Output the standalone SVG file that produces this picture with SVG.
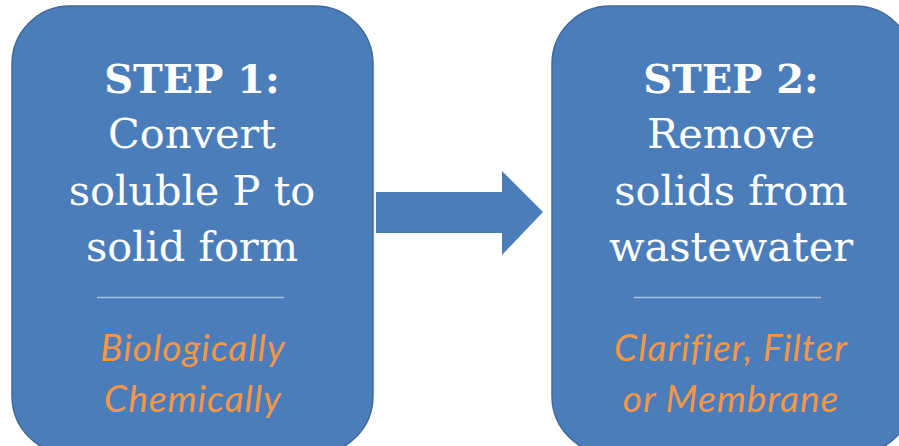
<svg xmlns="http://www.w3.org/2000/svg" width="899" height="446" viewBox="0 0 899 446">
<defs>
<style>
.box{fill:#4b7dba;stroke:#41699c;stroke-width:1.5}
.head{font-family:"DejaVu Serif",serif;font-weight:bold;font-size:40px;fill:#fff;text-anchor:middle}
.body{font-family:"DejaVu Serif",serif;font-size:41.5px;fill:#fff;text-anchor:middle}
.sub{font-family:"Lato","Open Sans",sans-serif;font-style:italic;font-size:37px;fill:#f79646;text-anchor:middle;letter-spacing:1px}
.rule{stroke:#a9c1e0;stroke-width:1.5}
.arrow{fill:#4b7dba}
</style>
</defs>
<rect width="899" height="446" fill="#fff"/>
<g id="step1">
<rect class="box" x="12" y="6" width="361" height="448" rx="58" ry="58"/>
<text class="head" x="192" y="93">STEP 1:</text>
<text class="body" x="192" y="148">Convert</text>
<text class="body" x="192" y="205">soluble P to</text>
<text class="body" x="192" y="261">solid form</text>
<line class="rule" x1="97" y1="297.5" x2="284" y2="297.5"/>
<text class="sub" x="193" y="361">Biologically</text>
<text class="sub" x="193" y="412">Chemically</text>
</g>
<g id="connectors">
<polygon class="arrow" points="376,192 502,192 502,171 543,212 502,255 502,233 376,233"/>
</g>
<g id="step2">
<rect class="box" x="552" y="6" width="361" height="448" rx="58" ry="58"/>
<text class="head" x="731" y="93">STEP 2:</text>
<text class="body" x="731" y="148">Remove</text>
<text class="body" x="731" y="205">solids from</text>
<text class="body" x="731" y="261">wastewater</text>
<line class="rule" x1="634" y1="297.5" x2="821" y2="297.5"/>
<text class="sub" x="731" y="361">Clarifier, Filter</text>
<text class="sub" x="731" y="412">or Membrane</text>
</g>
</svg>
